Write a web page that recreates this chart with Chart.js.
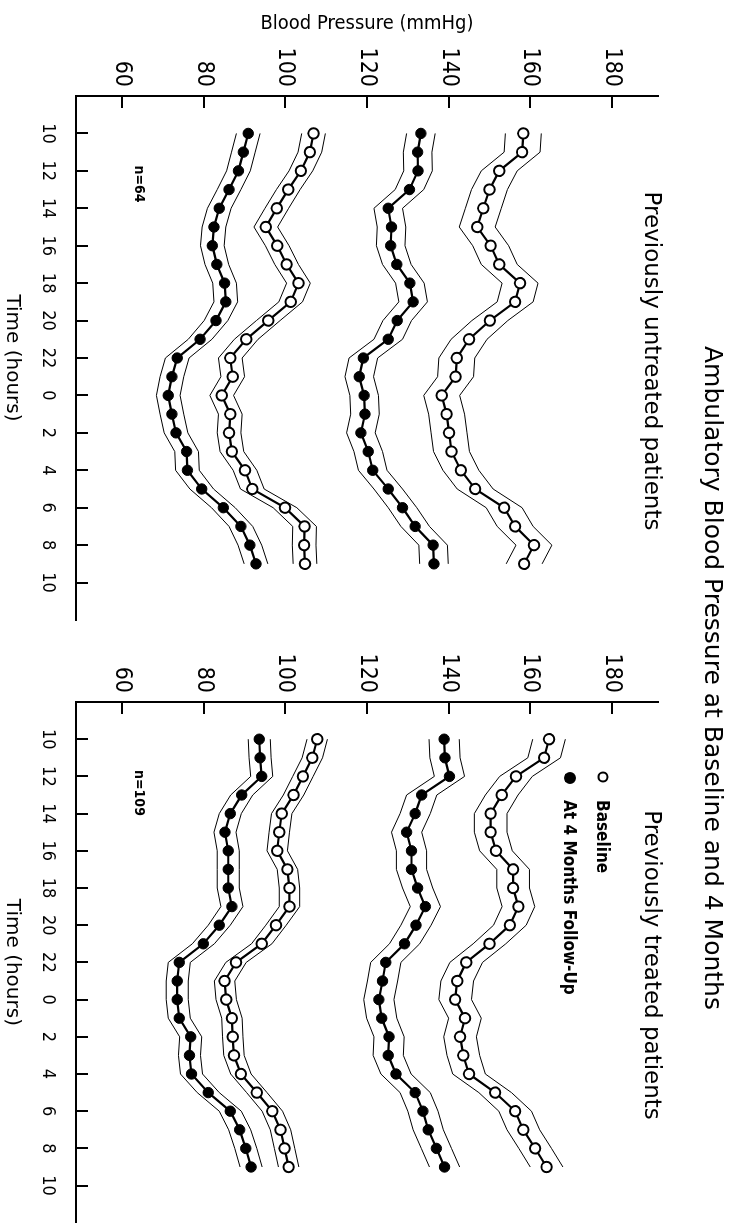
<!DOCTYPE html>
<html><head><meta charset="utf-8">
<script src="https://cdn.jsdelivr.net/npm/chart.js@4/dist/chart.umd.min.js"></script>
<style>
html,body{margin:0;padding:0;background:#fff;}
body{width:731px;height:1223px;overflow:hidden;position:relative;}
#wrap{position:absolute;left:0;top:0;width:1223px;height:731px;transform-origin:0 0;transform:translate(731px,0) rotate(90deg);background:#fff;font-family:'DejaVu Sans',sans-serif;color:#000;}
.t{position:absolute;white-space:nowrap;line-height:1;transform:translate(-50%,-50%);}
.l{position:absolute;white-space:nowrap;line-height:1;transform:translateY(-50%);}
.cb{font-weight:bold;font-family:'DejaVu Sans Condensed','DejaVu Sans',sans-serif;}
canvas{position:absolute;top:0;}
.mk{position:absolute;border-radius:50%;transform:translate(-50%,-50%);box-sizing:border-box;}
</style></head><body>
<div id="wrap">
<canvas id="c1" width="640" height="731" style="left:0"></canvas>
<canvas id="c2" width="630" height="731" style="left:600px"></canvas>
<div class="t" style="left:678px;top:17px;font-size:25px">Ambulatory Blood Pressure at Baseline and 4 Months</div>
<div class="t" style="left:361px;top:78px;font-size:23px">Previously untreated patients</div>
<div class="t" style="left:965px;top:78px;font-size:23px">Previously treated patients</div>
<div class="mk" style="left:777px;top:128px;width:11px;height:11px;border:2px solid #000"></div>
<div class="l cb" style="left:800px;top:128px;font-size:17px">Baseline</div>
<div class="mk" style="left:778px;top:161px;width:12px;height:12px;background:#000"></div>
<div class="l cb" style="left:800px;top:161px;font-size:17px">At 4 Months Follow-Up</div>
<div class="t cb" style="left:184px;top:591px;font-size:14px">n=64</div>
<div class="t cb" style="left:793px;top:591px;font-size:14px">n=109</div>
</div>
<script>
// hours of day (after midnight continued as 24..33)
const hours = [10,11,12,13,14,15,16,17,18,19,20,21,22,23,24,25,26,27,28,29,30,31,32,33];
const timeTicks = [10,12,14,16,18,20,22,24,26,28,30,32,34];
const timeTickLabels = ['10','12','14','16','18','20','22','0','2','4','6','8','10'];
const bpTicks = [60,80,100,120,140,160,180];

// Previously untreated patients (n=64)
const untreatedSysBase = [158.3,158.0,152.4,150.0,148.5,147.0,150.3,152.4,157.5,156.3,150.1,145.0,142.0,141.7,138.3,139.5,140.1,140.7,143.0,146.5,153.6,156.3,160.9,158.5];
const untreatedSysFU   = [133.2,132.4,132.5,130.4,125.2,126.0,125.8,127.3,130.5,131.3,127.4,125.2,119.1,118.1,119.3,119.5,118.5,120.3,121.4,125.2,128.7,131.8,136.2,136.4];
const untreatedDiaBase = [106.9,106.0,103.8,100.7,97.9,95.2,98.0,100.3,103.2,101.3,95.8,90.4,86.5,87.1,84.4,86.5,86.2,86.9,90.1,91.9,99.9,104.7,104.6,104.8];
const untreatedDiaFU   = [90.9,89.7,88.5,86.2,83.8,82.5,82.1,83.2,85.1,85.4,83.0,79.1,73.5,72.2,71.3,72.2,73.2,75.8,76.0,79.5,84.8,89.1,91.3,92.8];

// Previously treated patients (n=109)
const treatedSysBase = [164.6,163.4,156.5,153.0,150.3,150.3,151.6,155.8,155.8,157.1,155.0,150.0,144.3,142.1,141.6,144.0,142.8,143.6,145.0,151.4,156.3,158.3,161.2,164.0];
const treatedSysFU   = [138.9,139.1,140.2,133.4,131.8,129.7,130.9,130.9,132.4,134.3,132.0,129.2,124.6,123.8,122.9,123.6,125.4,125.2,127.1,131.8,133.7,135.0,137.0,139.0];
const treatedDiaBase = [107.8,106.6,104.3,102.0,99.1,98.5,98.0,100.5,101.0,101.0,97.7,94.2,87.9,85.1,85.5,86.9,87.1,87.4,89.1,93.0,96.8,98.8,99.8,100.8];
const treatedDiaFU   = [93.6,93.8,94.2,89.3,86.5,85.2,86.0,86.0,86.0,86.9,83.8,79.9,74.0,73.5,73.5,74.0,76.8,76.5,77.0,81.1,86.5,88.8,90.3,91.6];

// confidence band half-widths (mmHg)
const untreatedBand = {sysBase:4.4, sysFU:3.5, diaBase:2.9, diaFU:2.9};
const treatedBand   = {sysBase:4.0, sysFU:3.7, diaBase:2.5, diaFU:2.7};

const narrow = "'Liberation Sans Narrow','DejaVu Sans Condensed',sans-serif";

function series(values, filled){
  return {
    data: values.map((v,i)=>({x:hours[i], y:v})),
    borderColor:'#000', borderWidth:2.2,
    pointRadius:5.2, pointHoverRadius:5.2,
    pointBackgroundColor: filled ? '#000' : '#fff',
    pointBorderColor:'#000', pointBorderWidth: filled ? 1 : 2,
    tension:0, fill:false, order:0
  };
}
function band(values, hw, sign){
  return {
    data: values.map((v,i)=>({x:hours[i], y:v + sign*hw})),
    borderColor:'#000', borderWidth:1, pointRadius:0, tension:0, fill:false, order:1
  };
}
function datasets(sb, sf, db, df, bw){
  return [
    band(sb,bw.sysBase,1), band(sb,bw.sysBase,-1),
    band(sf,bw.sysFU,1), band(sf,bw.sysFU,-1),
    band(db,bw.diaBase,1), band(db,bw.diaBase,-1),
    band(df,bw.diaFU,1), band(df,bw.diaFU,-1),
    series(sb,false), series(sf,true), series(db,false), series(df,true)
  ];
}

const inwardTicks = {
  id:'inwardTicks',
  afterDraw(chart){
    const {ctx, chartArea, scales:{x,y}} = chart;
    ctx.save();
    ctx.strokeStyle='#000'; ctx.lineWidth=2;
    ctx.beginPath();
    x.ticks.forEach(t=>{ const p=Math.round(x.getPixelForValue(t.value)); ctx.moveTo(p, chartArea.bottom); ctx.lineTo(p, chartArea.bottom-12); });
    y.ticks.forEach(t=>{ const p=Math.round(y.getPixelForValue(t.value)); ctx.moveTo(chartArea.left, p); ctx.lineTo(chartArea.left+12, p); });
    ctx.stroke();
    ctx.restore();
  }
};

function makeChart(id, ds, yAxisWidth, padRight, showYTitle){
  return new Chart(document.getElementById(id), {
    type:'line',
    data:{datasets: ds},
    options:{
      responsive:false, animation:false, devicePixelRatio:1,
      layout:{padding:{top:73, right:padRight, left:0, bottom:0}},
      plugins:{legend:{display:false}, tooltip:{enabled:false}, title:{display:false}},
      scales:{
        x:{
          type:'linear', min:8, max:36,
          afterFit(s){ s.height = 76; },
          afterBuildTicks(s){ s.ticks = timeTicks.map(v=>({value:v})); },
          grid:{display:false, drawTicks:false},
          border:{display:true, color:'#000', width:2},
          ticks:{autoSkip:false, maxRotation:0, padding:18, color:'#000', font:{family:narrow, size:18},
                 callback:(v,i)=>timeTickLabels[i]},
          title:{display:true, text:'Time (hours)', color:'#000', padding:{top:11,bottom:0},
                 font:{family:"'DejaVu Sans',sans-serif", size:20}}
        },
        y:{
          type:'linear', min:48.7, max:191.3,
          afterFit(s){ s.width = yAxisWidth; },
          afterBuildTicks(s){ s.ticks = bpTicks.map(v=>({value:v})); },
          grid:{display:false, drawTicks:false},
          border:{display:true, color:'#000', width:2},
          ticks:{autoSkip:false, padding:9, color:'#000', font:{family:narrow, size:23}},
          title:{display:showYTitle, text:'Blood Pressure (mmHg)', color:'#000', padding:{top:12,bottom:0},
                 font:{family:"'DejaVu Sans Condensed','DejaVu Sans',sans-serif", size:20}}
        }
      }
    },
    plugins:[inwardTicks]
  });
}

makeChart('c1', datasets(untreatedSysBase, untreatedSysFU, untreatedDiaBase, untreatedDiaFU, untreatedBand), 96, 20, true);
makeChart('c2', datasets(treatedSysBase, treatedSysFU, treatedDiaBase, treatedDiaFU, treatedBand), 102, 4, false);
</script>
</body></html>
